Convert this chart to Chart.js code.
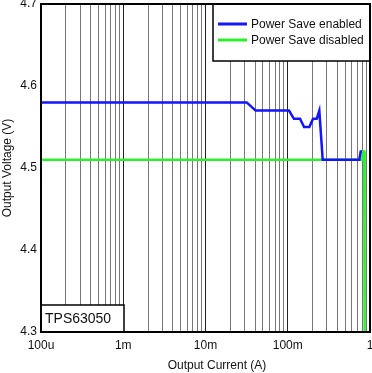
<!DOCTYPE html>
<html>
<head>
<meta charset="utf-8">
<script src="https://cdn.jsdelivr.net/npm/chart.js@4/dist/chart.umd.min.js"></script>
<style>
  html, body { margin: 0; padding: 0; background: #fff; }
  canvas { display: block; }
</style>
</head>
<body>
<canvas id="chart" width="372" height="373"></canvas>
<script>
// data (current in A, voltage in V)
const blueCurrent = [0.0001, 0.0317, 0.0407, 0.1035, 0.119, 0.141, 0.158, 0.183, 0.203, 0.225, 0.242, 0.266, 0.741, 0.771, 0.80];
const blueVoltage = [4.58, 4.58, 4.57, 4.57, 4.56, 4.56, 4.55, 4.55, 4.56, 4.56, 4.57, 4.51, 4.51, 4.52, 4.52];
const greenCurrent = [0.0001, 0.80, 0.81, 0.85, 0.86];
const greenVoltage = [4.51, 4.51, 4.52, 4.52, 4.30];

const seriesLabels = ["Power Save enabled", "Power Save disabled"];
const seriesColors = ["#1414ff", "#2cf02c"];

const xTickValues = [0.0001, 0.001, 0.01, 0.1, 1];
const xTickLabels = ["100u", "1m", "10m", "100m", "1"];
const yMin = 4.3, yMax = 4.7, yStep = 0.1;

const xTitle = "Output Current (A)";
const yTitle = "Output Voltage (V)";
const partName = "TPS63050";

const FONT = "'Liberation Sans', Arial, sans-serif";

function toPoints(xs, ys) {
  return xs.map((x, i) => ({ x: x, y: ys[i] }));
}

function isDecade(value) {
  return xTickValues.findIndex(v => Math.abs(v - value) / v < 1e-6);
}

// legend box, part name box, frame and x title
const decorations = {
  id: "decorations",
  afterDatasetsDraw(chart) {
    const ctx = chart.ctx;
    const area = chart.chartArea;
    ctx.save();

    // legend
    const lx = 213, ly = area.top, lw = area.right - 213, lh = 57;
    ctx.fillStyle = "#fff";
    ctx.fillRect(lx, ly, lw, lh);
    ctx.strokeStyle = "#000";
    ctx.lineWidth = 1.5;
    ctx.strokeRect(lx, ly, lw, lh);
    ctx.font = "12px " + FONT;
    ctx.textBaseline = "middle";
    ctx.textAlign = "left";
    chart.data.datasets.forEach((ds, i) => {
      const y = 24 + i * 16;
      ctx.strokeStyle = ds.borderColor;
      ctx.lineWidth = 3;
      ctx.beginPath();
      ctx.moveTo(218, y);
      ctx.lineTo(247, y);
      ctx.stroke();
      ctx.fillStyle = "#111";
      ctx.fillText(ds.label, 251, y + 0.5);
    });

    // part name box
    ctx.fillStyle = "#fff";
    ctx.fillRect(area.left, 305, 124 - area.left, area.bottom - 305);
    ctx.strokeStyle = "#000";
    ctx.lineWidth = 1.5;
    ctx.strokeRect(area.left, 305, 124 - area.left, area.bottom - 305);
    ctx.font = "14px " + FONT;
    ctx.fillStyle = "#111";
    ctx.fillText(partName, 45, 319);

    // frame
    ctx.strokeStyle = "#000";
    ctx.lineWidth = 2;
    ctx.strokeRect(area.left, area.top, area.right - area.left, area.bottom - area.top);

    // x axis title
    ctx.font = "12px " + FONT;
    ctx.textAlign = "center";
    ctx.fillText(xTitle, 217, 366);
    ctx.restore();
  }
};

new Chart(document.getElementById("chart"), {
  type: "line",
  data: {
    datasets: [
      {
        label: seriesLabels[0],
        data: toPoints(blueCurrent, blueVoltage),
        borderColor: seriesColors[0],
        borderWidth: 2.5,
        pointRadius: 0,
        tension: 0
      },
      {
        label: seriesLabels[1],
        data: toPoints(greenCurrent, greenVoltage),
        borderColor: seriesColors[1],
        borderWidth: 2.5,
        pointRadius: 0,
        tension: 0
      }
    ]
  },
  options: {
    responsive: false,
    animation: false,
    devicePixelRatio: 1,
    layout: { padding: { left: 0, top: 4, right: 2, bottom: 0 } },
    plugins: {
      legend: { display: false },
      tooltip: { enabled: false }
    },
    scales: {
      x: {
        type: "logarithmic",
        min: xTickValues[0],
        max: xTickValues[xTickValues.length - 1],
        afterBuildTicks(scale) {
          const ticks = [];
          for (let i = 0; i < xTickValues.length - 1; i++) {
            for (let k = 1; k <= 9; k++) ticks.push({ value: xTickValues[i] * k });
          }
          ticks.push({ value: xTickValues[xTickValues.length - 1] });
          scale.ticks = ticks;
        },
        afterFit(scale) {
          scale.height = 41;
          scale.paddingLeft = 0;
          scale.paddingRight = 0;
        },
        border: { display: false },
        grid: {
          drawTicks: false,
          lineWidth: 1,
          color: c => (c.tick && isDecade(c.tick.value) >= 0) ? "#222" : "#777"
        },
        ticks: {
          autoSkip: false,
          maxRotation: 0,
          padding: 6,
          color: "#111",
          font: { family: FONT, size: 12 },
          callback: value => {
            const i = isDecade(value);
            return i >= 0 ? xTickLabels[i] : "";
          }
        }
      },
      y: {
        type: "linear",
        min: yMin,
        max: yMax,
        afterFit(scale) {
          scale.width = 41;
          scale.paddingTop = 0;
          scale.paddingBottom = 0;
        },
        border: { display: false },
        grid: { display: false, drawTicks: false },
        ticks: {
          stepSize: yStep,
          padding: 4,
          color: "#111",
          font: { family: FONT, size: 12 },
          callback: v => Number(v).toFixed(1)
        },
        title: {
          display: true,
          text: yTitle,
          color: "#111",
          font: { family: FONT, size: 12 },
          padding: { top: 0, bottom: 0 }
        }
      }
    }
  },
  plugins: [decorations]
});
</script>
</body>
</html>
